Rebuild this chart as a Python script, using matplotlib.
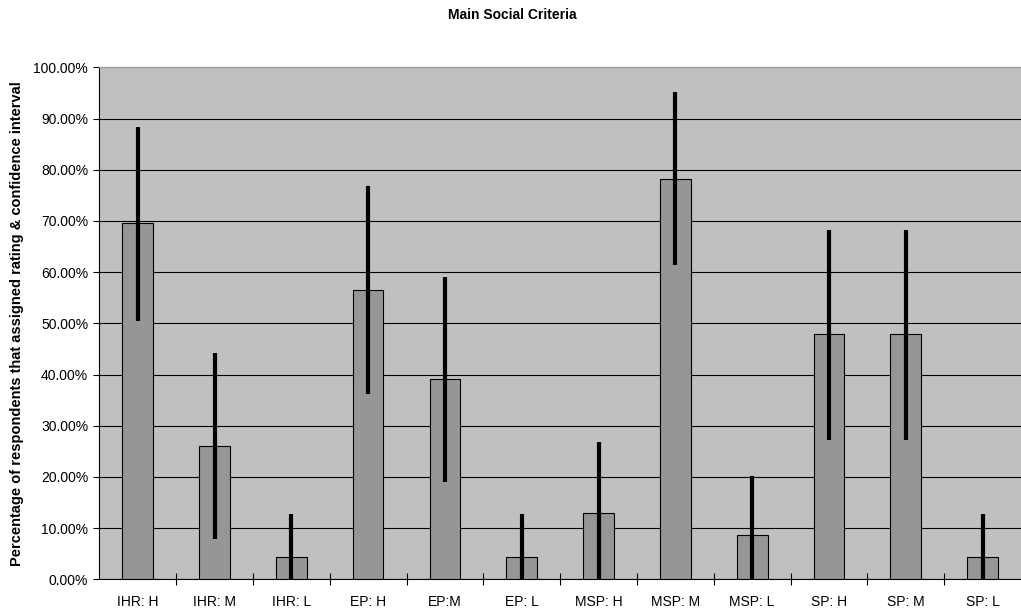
import matplotlib
matplotlib.use("Agg")
import matplotlib.pyplot as plt
from matplotlib.ticker import FixedLocator, FuncFormatter

categories = ["IHR: H", "IHR: M", "IHR: L", "EP: H", "EP:M", "EP: L",
              "MSP: H", "MSP: M", "MSP: L", "SP: H", "SP: M", "SP: L"]
values = [69.57, 26.09, 4.35, 56.52, 39.13, 4.35, 13.04, 78.26, 8.70, 47.83, 47.83, 4.35]
ci_low = [50.5, 7.9, 0.0, 36.2, 19.0, 0.0, 0.0, 61.3, 0.0, 27.3, 27.3, 0.0]
ci_high = [88.4, 44.2, 12.8, 76.8, 59.1, 12.8, 26.8, 95.1, 20.2, 68.2, 68.2, 12.8]

plt.rcParams['font.family'] = ['Liberation Sans', 'DejaVu Sans']

fig = plt.figure(figsize=(10.21, 6.14), dpi=100)
ax = fig.add_axes([99.3 / 1021, 1 - 579.3 / 614, 1 - 99.3 / 1021, (579.3 - 67.3) / 614])
ax.set_facecolor('#C0C0C0')

x = list(range(len(categories)))
ax.bar(x, [v / 100 for v in values], width=0.4, color='#969696',
       edgecolor='black', linewidth=0.8, zorder=3)
ax.vlines(x, [v / 100 for v in ci_low], [v / 100 for v in ci_high],
          color='black', linewidth=3.0, zorder=4)

ax.set_xlim(-0.5, len(categories) - 0.5)
ax.set_ylim(0, 1.0)

ax.yaxis.set_major_locator(FixedLocator([i / 10 for i in range(11)]))
ax.yaxis.set_major_formatter(FuncFormatter(lambda v, p: f"{v * 100:.2f}%"))
ax.yaxis.grid(True, color='black', linewidth=0.8, zorder=1)
ax.set_axisbelow(True)

ax.xaxis.set_major_locator(FixedLocator([i + 0.5 for i in range(len(categories) - 1)]))
ax.xaxis.set_major_formatter(FuncFormatter(lambda v, p: ""))
ax.xaxis.set_minor_locator(FixedLocator(x))
ax.set_xticks(x, categories, minor=True)
ax.tick_params(axis='x', which='major', direction='inout', length=8, width=0.8)
ax.tick_params(axis='x', which='minor', length=0, pad=11, labelsize=10)
ax.tick_params(axis='y', which='major', direction='out', length=4, width=0.8,
               labelsize=10, pad=4)

for s in ['left', 'bottom']:
    ax.spines[s].set_color('black')
    ax.spines[s].set_linewidth(0.8)
ax.spines['top'].set_color('#A0A0A0')
ax.spines['top'].set_linewidth(1.0)
ax.spines['right'].set_visible(False)

ax.set_ylabel("Percentage of respondents that assigned rating & confidence interval",
              fontsize=10.5, fontweight='bold', labelpad=7)
fig.text(512 / 1021, 1 - 15 / 614, "Main Social Criteria", ha='center', va='center',
         fontsize=10, fontweight='bold')

fig.savefig("out.png", dpi=100)
